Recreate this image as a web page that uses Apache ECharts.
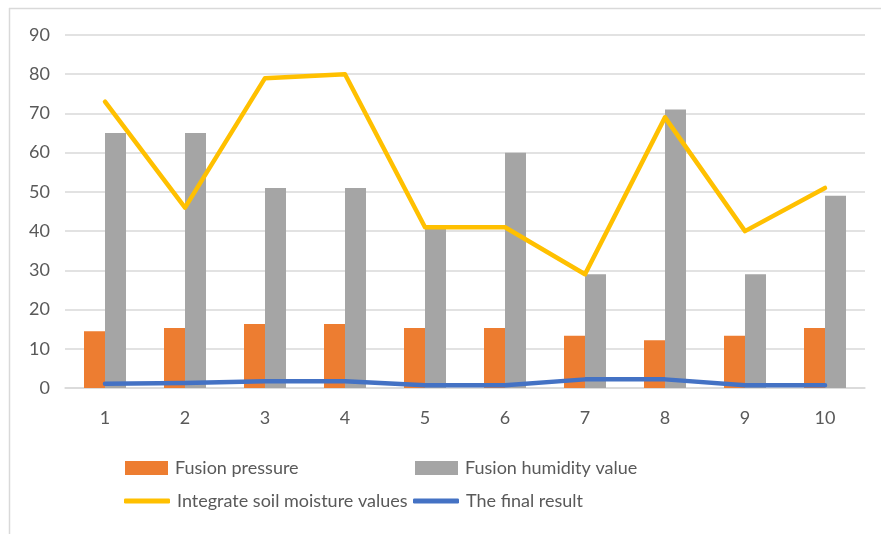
<!DOCTYPE html>
<html>
<head>
<meta charset="utf-8">
<script src="https://cdn.jsdelivr.net/npm/echarts@6/dist/echarts.min.js"></script>
<style>
  html, body { margin: 0; padding: 0; background: #ffffff; }
  #chart { width: 881px; height: 534px; }
</style>
</head>
<body>
<div id="chart"></div>
<script>
// Sample points 1..10
const categories = ['1', '2', '3', '4', '5', '6', '7', '8', '9', '10'];

const fusionPressure = [14.5, 15.3, 16.3, 16.3, 15.3, 15.3, 13.3, 12.2, 13.3, 15.3];
const fusionHumidity = [65, 65, 51, 51, 41, 60, 29, 71, 29, 49];
const soilMoisture   = [73, 46, 79, 80, 41, 41, 29, 69, 40, 51];
const finalResult    = [1.1, 1.3, 1.7, 1.7, 0.7, 0.7, 2.2, 2.2, 0.7, 0.7];

const seriesNames = [
  'Fusion pressure',
  'Fusion humidity value',
  'Integrate soil moisture values',
  'The final result'
];

const colors = ['#ED7D31', '#A5A5A5', '#FFC000', '#4472C4'];
const textColor = '#595959';
const fontFamily = 'Lato, "Liberation Sans", sans-serif';

const chart = echarts.init(document.getElementById('chart'), null, { renderer: 'canvas' });

function legendAt(name, left, top, icon, w, h) {
  return {
    data: [{ name: name, icon: icon }],
    left: left,
    top: top,
    padding: 0,
    itemWidth: w,
    itemHeight: h,
    selectedMode: false,
    textStyle: { color: textColor, fontSize: 18, fontFamily: fontFamily, padding: [3, 0, 0, 2] }
  };
}

chart.setOption({
  animation: false,
  backgroundColor: '#ffffff',
  color: colors,
  grid: { left: 65, right: 16, top: 35, bottom: 146, containLabel: false },
  graphic: [
    { type: 'line', shape: { x1: 9.5, y1: 8, x2: 9.5, y2: 534 }, style: { stroke: '#d9d9d9', lineWidth: 1.5 } },
    { type: 'line', shape: { x1: 9, y1: 8.5, x2: 881, y2: 8.5 }, style: { stroke: '#d9d9d9', lineWidth: 1.5 } }
  ],
  legend: [
    legendAt(seriesNames[0], 125, 459, 'rect', 43, 14),
    legendAt(seriesNames[1], 415, 459, 'rect', 43, 14),
    legendAt(seriesNames[2], 124, 492, 'roundRect', 46, 5),
    legendAt(seriesNames[3], 413, 492, 'roundRect', 46, 5)
  ],
  xAxis: {
    type: 'category',
    data: categories,
    axisTick: { show: false },
    axisLine: { lineStyle: { color: '#d9d9d9', width: 1.5 } },
    axisLabel: { color: textColor, fontSize: 18, fontFamily: fontFamily, margin: 21 }
  },
  yAxis: {
    type: 'value',
    min: 0,
    max: 90,
    interval: 10,
    axisLine: { show: false },
    axisTick: { show: false },
    axisLabel: { color: textColor, fontSize: 18, fontFamily: fontFamily, margin: 15 },
    splitLine: { lineStyle: { color: '#d9d9d9', width: 1.5 } }
  },
  series: [
    {
      name: seriesNames[0],
      type: 'bar',
      data: fusionPressure,
      barWidth: 21,
      barGap: '0%',
      itemStyle: { color: colors[0] }
    },
    {
      name: seriesNames[1],
      type: 'bar',
      data: fusionHumidity,
      barWidth: 21,
      barGap: '0%',
      itemStyle: { color: colors[1] }
    },
    {
      name: seriesNames[2],
      type: 'line',
      data: soilMoisture,
      symbol: 'none',
      lineStyle: { color: colors[2], width: 4.5, cap: 'round', join: 'round' },
      itemStyle: { color: colors[2] },
      z: 3
    },
    {
      name: seriesNames[3],
      type: 'line',
      data: finalResult,
      symbol: 'none',
      lineStyle: { color: colors[3], width: 4.5, cap: 'round', join: 'round' },
      itemStyle: { color: colors[3] },
      z: 3
    }
  ]
});
</script>
</body>
</html>
